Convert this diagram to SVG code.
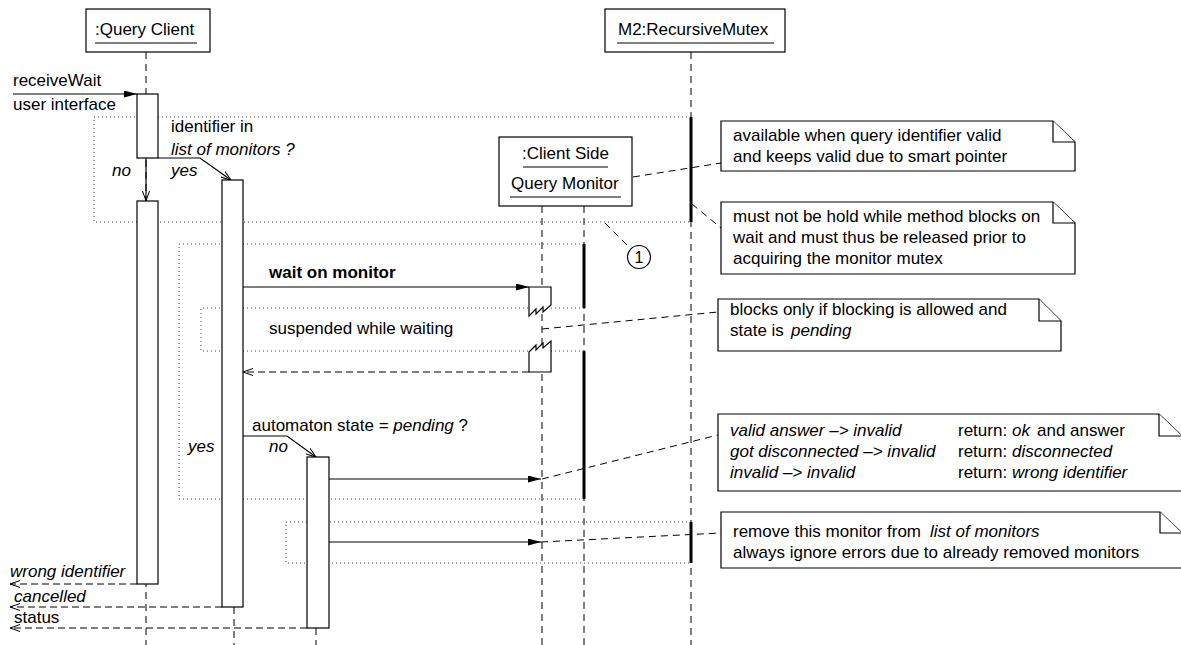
<svg xmlns="http://www.w3.org/2000/svg" width="1181" height="645" viewBox="0 0 1181 645">
  <style>
    text { font-family: "Liberation Sans", Arial, Helvetica, sans-serif; font-size: 17px; fill: #000; }
    .it { font-style: italic; }
    .bd { font-weight: bold; }
    .head { fill: #fff; stroke: #000; stroke-width: 1.2; }
    .uline { stroke: #000; stroke-width: 1.2; }
    .life { stroke: #000; stroke-width: 1; stroke-dasharray: 7 5; fill: none; }
    .act { fill: #fff; stroke: #000; stroke-width: 1.2; }
    .region { fill: none; stroke: #444; stroke-width: 1; stroke-dasharray: 1 3; }
    .lock { stroke: #000; stroke-width: 3; }
    .msg { fill: none; stroke: #000; stroke-width: 1.2; }
    .ret { fill: none; stroke: #000; stroke-width: 1; stroke-dasharray: 7 4; }
    .link { fill: none; stroke: #000; stroke-width: 1; stroke-dasharray: 7 5; }
    .note { fill: #fff; stroke: #000; stroke-width: 1.2; }
  </style>
  <defs>
    <marker id="filled" viewBox="0 0 13 7" refX="13" refY="3.5" markerWidth="13" markerHeight="7" markerUnits="userSpaceOnUse" orient="auto">
      <path d="M0,0 L13,3.5 L0,7 z" fill="#000" stroke="none"/>
    </marker>
    <marker id="open" viewBox="0 0 10 8" refX="10" refY="4" markerWidth="10" markerHeight="8" markerUnits="userSpaceOnUse" orient="auto">
      <path d="M0,0.5 L10,4 L0,7.5" fill="none" stroke="#000" stroke-width="1" stroke-dasharray="none"/>
    </marker>
  </defs>

  <!-- lifelines -->
  <g id="lifelines">
    <line class="life" x1="146" y1="52" x2="146" y2="645"/>
    <line class="life" x1="234" y1="607" x2="234" y2="645"/>
    <line class="life" x1="316" y1="628" x2="316" y2="645"/>
    <line class="life" x1="542" y1="206" x2="542" y2="645"/>
    <line class="life" x1="584" y1="206" x2="584" y2="645"/>
    <line class="life" x1="691" y1="52" x2="691" y2="645"/>
  </g>

  <!-- guarded regions with held mutex bars -->
  <g id="region-mutex">
    <polyline class="region" points="691,117 94,117 94,222 691,222"/>
    <line class="lock" x1="691" y1="117" x2="691" y2="222"/>
  </g>
  <g id="region-monitor">
    <polyline class="region" points="584,244 179,244 179,499 584,499"/>
    <line class="lock" x1="584" y1="244" x2="584" y2="308"/>
    <line class="lock" x1="584" y1="351" x2="584" y2="499"/>
  </g>
  <g id="region-suspended">
    <polyline class="region" points="584,308 201,308 201,351 584,351"/>
  </g>
  <g id="region-remove">
    <polyline class="region" points="691,522 286,522 286,563 691,563"/>
    <line class="lock" x1="691" y1="522" x2="691" y2="563"/>
  </g>

  <!-- messages and note links -->
  <g id="connectors">
    <line class="msg" x1="13" y1="94" x2="137" y2="94" marker-end="url(#filled)"/>
    <polyline class="msg" points="158,158 200,158 231,180" marker-end="url(#open)"/>
    <line class="msg" x1="146" y1="158" x2="146" y2="201" marker-end="url(#open)"/>
    <line class="msg" x1="243" y1="287" x2="529" y2="287" marker-end="url(#filled)"/>
    <line class="ret" x1="529" y1="372" x2="243" y2="372" marker-end="url(#open)"/>
    <polyline class="msg" points="243,436 287,436 316,457" marker-end="url(#open)"/>
    <line class="msg" x1="329" y1="479" x2="541" y2="479" marker-end="url(#filled)"/>
    <line class="msg" x1="329" y1="542" x2="541" y2="542" marker-end="url(#filled)"/>
    <line class="ret" x1="137" y1="584" x2="10" y2="584" marker-end="url(#open)"/>
    <line class="ret" x1="222" y1="607" x2="10" y2="607" marker-end="url(#open)"/>
    <line class="ret" x1="307" y1="628" x2="10" y2="628" marker-end="url(#open)"/>

    <line class="link" x1="633" y1="177" x2="721" y2="163"/>
    <line class="link" x1="692" y1="204" x2="721" y2="228"/>
    <line class="link" x1="605" y1="223" x2="630" y2="248"/>
    <line class="link" x1="542" y1="329" x2="718" y2="312"/>
    <line class="link" x1="542" y1="479" x2="718" y2="435"/>
    <line class="link" x1="541" y1="542" x2="721" y2="533"/>
  </g>

  <!-- activations -->
  <g id="activations">
    <rect class="act" x="137" y="94" width="21" height="64"/>
    <rect class="act" x="137" y="201" width="21" height="383"/>
    <rect class="act" x="222" y="180" width="21" height="427"/>
    <rect class="act" x="307" y="457" width="22" height="171"/>
  </g>

  <!-- suspension of the monitor wait -->
  <g id="wait-suspend">
    <path class="act" d="M529,287 L551,287 L551,305 L543,312 L543,307 L536,314 L536,309 L529,316 Z"/>
  </g>
  <g id="wait-resume">
    <path class="act" d="M529,372 L551,372 L551,341 L543,348 L543,343 L536,350 L536,345 L529,352 Z"/>
  </g>

  <!-- object heads -->
  <g id="query-client">
    <rect class="head" x="86" y="9" width="124" height="43"/>
    <text x="95" y="35">:Query Client</text>
    <line class="uline" x1="95" y1="43" x2="197" y2="43"/>
  </g>
  <g id="recursive-mutex">
    <rect class="head" x="605" y="9" width="180" height="43"/>
    <text x="618" y="35">M2:RecursiveMutex</text>
    <line class="uline" x1="617" y1="43" x2="774" y2="43"/>
  </g>
  <g id="client-side-query-monitor">
    <rect class="head" x="499" y="137" width="133" height="69"/>
    <text x="522" y="159">:Client Side</text>
    <line class="uline" x1="523" y1="167" x2="608" y2="167"/>
    <text x="511" y="189">Query Monitor</text>
    <line class="uline" x1="510" y1="197" x2="621" y2="197"/>
  </g>

  <!-- reference marker -->
  <g id="ref-1">
    <circle cx="639" cy="257" r="11.5" fill="#fff" stroke="#000" stroke-width="1.2"/>
    <text x="639" y="263" text-anchor="middle" style="font-size:16px">1</text>
  </g>

  <!-- notes -->
  <g id="note-available">
    <path class="note" d="M721,121 L1053,121 L1075,142 L1075,171 L721,171 Z"/>
    <path class="note" d="M1053,121 L1053,142 L1075,142"/>
    <text x="733" y="141">available when query identifier valid</text>
    <text x="733" y="162">and keeps valid due to smart pointer</text>
  </g>
  <g id="note-release">
    <path class="note" d="M721,202 L1053,202 L1075,223 L1075,274 L721,274 Z"/>
    <path class="note" d="M1053,202 L1053,223 L1075,223"/>
    <text x="733" y="222">must not be hold while method blocks on</text>
    <text x="733" y="243">wait and must thus be released prior to</text>
    <text x="733" y="264">acquiring the monitor mutex</text>
  </g>
  <g id="note-blocking">
    <path class="note" d="M718,299 L1039,299 L1061,321 L1061,351 L718,351 Z"/>
    <path class="note" d="M1039,299 L1039,321 L1061,321"/>
    <text x="730" y="315">blocks only if blocking is allowed and</text>
    <text x="730" y="336">state is<tspan class="it" x="791">pending</tspan></text>
  </g>
  <g id="note-results">
    <path class="note" d="M718,414 L1159,414 L1182,436 L1182,491 L718,491 Z"/>
    <path class="note" d="M1159,414 L1159,436 L1182,436"/>
    <text class="it" x="730" y="436">valid answer –&gt; invalid</text>
    <text class="it" x="730" y="457">got disconnected –&gt; invalid</text>
    <text class="it" x="730" y="478">invalid –&gt; invalid</text>
    <text x="958" y="436">return:<tspan class="it" x="1012">ok</tspan><tspan x="1037">and answer</tspan></text>
    <text x="958" y="457">return:<tspan class="it" x="1012">disconnected</tspan></text>
    <text x="958" y="478">return:<tspan class="it" x="1012">wrong identifier</tspan></text>
  </g>
  <g id="note-remove">
    <path class="note" d="M721,512 L1160,512 L1182,533 L1182,568 L721,568 Z"/>
    <path class="note" d="M1160,512 L1160,533 L1182,533"/>
    <text x="733" y="537">remove this monitor from<tspan class="it" x="930">list of monitors</tspan></text>
    <text x="733" y="558">always ignore errors due to already removed monitors</text>
  </g>

  <!-- message labels -->
  <g id="labels">
    <text x="13" y="86">receiveWait</text>
    <text x="13" y="110">user interface</text>
    <text x="171" y="132">identifier in</text>
    <text class="it" x="171" y="155">list of monitors ?</text>
    <text class="it" x="112" y="176">no</text>
    <text class="it" x="171" y="176">yes</text>
    <text class="bd" x="269" y="278">wait on monitor</text>
    <text x="269" y="334">suspended while waiting</text>
    <text x="252" y="431">automaton state = <tspan class="it">pending</tspan> ?</text>
    <text class="it" x="188" y="452">yes</text>
    <text class="it" x="269" y="452">no</text>
    <text class="it" x="10" y="577">wrong identifier</text>
    <text class="it" x="14" y="602">cancelled</text>
    <text x="14" y="623">status</text>
  </g>
</svg>
